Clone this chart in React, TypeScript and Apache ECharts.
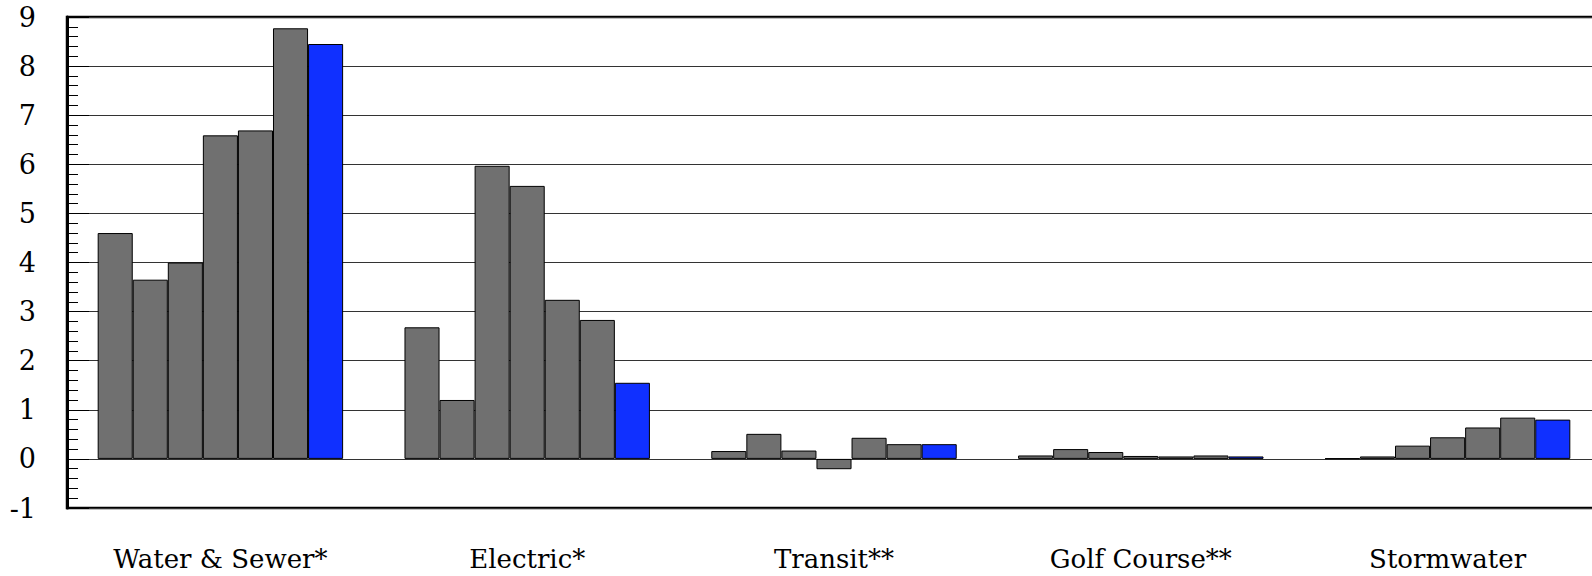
import React, { useEffect, useRef } from "react";
import * as echarts from "echarts";

const categories = ["Water & Sewer*", "Electric*", "Transit**", "Golf Course**", "Stormwater"];
const series1 = [4.6, 2.68, 0.16, 0.07, 0.01];
const series2 = [3.65, 1.2, 0.51, 0.2, 0.05];
const series3 = [4.0, 5.97, 0.17, 0.14, 0.27];
const series4 = [6.59, 5.56, -0.21, 0.06, 0.44];
const series5 = [6.69, 3.24, 0.43, 0.05, 0.64];
const series6 = [8.77, 2.83, 0.3, 0.07, 0.84];
const series7 = [8.45, 1.55, 0.3, 0.05, 0.8];
const yTicks = [-1, 0, 1, 2, 3, 4, 5, 6, 7, 8, 9];

const GRAY = "#707070";
const BLUE = "#1030FF";
const FONT = "DejaVu Serif";

export default function App() {
  const ref = useRef<HTMLDivElement>(null);
  useEffect(() => {
    if (!ref.current) return;
    const chart = echarts.init(ref.current, null, { renderer: "svg" });
    const all = [series1, series2, series3, series4, series5, series6, series7];
    const series = all.map((d, i) => ({
      name: `Series ${i + 1}`,
      type: "bar" as const,
      data: d,
      barGap: "0%",
      barCategoryGap: "20%",
      itemStyle: {
        color: i === 6 ? BLUE : GRAY,
        borderColor: "#000",
        borderWidth: 1,
      },
    }));
    chart.setOption({
      animation: false,
      grid: {
        left: 67,
        right: 9,
        top: 17,
        bottom: 68,
        show: true,
        borderColor: "#000",
        borderWidth: 2.5,
        backgroundColor: "transparent",
      },
      xAxis: {
        type: "category",
        data: categories,
        axisLine: { show: false },
        axisTick: { show: false },
        axisLabel: {
          fontFamily: FONT,
          fontSize: 26,
          lineHeight: 26,
          color: "#000",
          margin: 38,
        },
      },
      yAxis: {
        type: "value",
        min: yTicks[0],
        max: yTicks[yTicks.length - 1],
        interval: 1,
        axisLine: { show: true, lineStyle: { color: "#000", width: 3 } },
        axisTick: { show: true, inside: true, length: 22, lineStyle: { color: "#000", width: 1 } },
        minorTick: { show: true, splitNumber: 5, length: 11, lineStyle: { color: "#000", width: 1 } },
        splitLine: { show: true, lineStyle: { color: "#333", width: 1 } },
        axisLabel: {
          fontFamily: FONT,
          fontSize: 27,
          color: "#000",
          margin: 31,
        },
      },
      series,
    });
    return () => chart.dispose();
  }, []);
  return (
    <div style={{ position: "fixed", left: 0, top: 0, width: 1592, height: 576, overflow: "hidden", background: "#fff" }}>
      <div ref={ref} style={{ width: 1610, height: 576 }} />
    </div>
  );
}
